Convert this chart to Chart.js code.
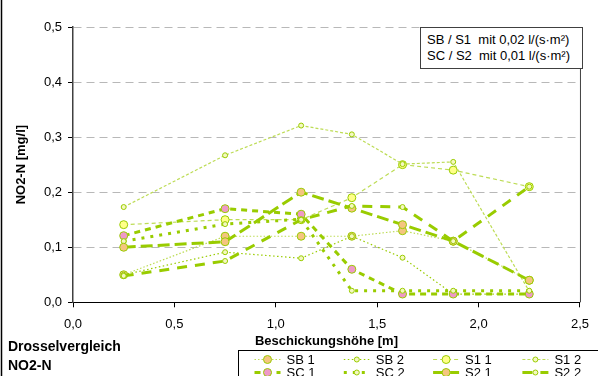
<!DOCTYPE html>
<html><head><meta charset="utf-8">
<script src="https://cdn.jsdelivr.net/npm/chart.js@4"></script>
<style>
html,body{margin:0;padding:0;background:#fff;}
#wrap{position:relative;width:598px;height:376px;overflow:hidden;font-family:"Liberation Sans",Arial,sans-serif;}
canvas{position:absolute;left:0;top:0;}
#note{position:absolute;left:420px;top:27px;width:163px;height:42px;border:1px solid #404040;box-sizing:border-box;background:#fff;font-size:13px;line-height:16px;padding:4px 0 0 6px;color:#000;white-space:nowrap;}
#title{position:absolute;left:8px;top:337px;font-size:14px;font-weight:bold;line-height:19px;color:#000;}
</style></head>
<body><div id="wrap"><canvas id="c" width="598" height="376"></canvas>
<div id="note">SB / S1&nbsp; mit 0,02 l/(s·m²)<br>SC / S2&nbsp; mit 0,01 l/(s·m²)</div>
<div id="title">Drosselvergleich<br>NO2-N</div>
</div>
<script>
// ---- data ----
const heights = [0.25, 0.75, 1.125, 1.375, 1.625, 1.875, 2.25];
const seriesNames = ['SB 1', 'SB 2', 'S1 1', 'S1 2', 'SC 1', 'SC 2', 'S2 1', 'S2 2'];
const sb1 = [0.05, 0.12, 0.12, 0.12, 0.13, 0.111, 0.04];
const sb2 = [0.05, 0.091, 0.08, 0.12, 0.081, 0.015, 0.015];
const s11 = [0.141, 0.15, 0.15, 0.19, 0.25, 0.24, 0.21];
const s12 = [0.173, 0.267, 0.321, 0.305, 0.251, 0.255, 0.02];
const sc1 = [0.121, 0.17, 0.16, 0.06, 0.015, 0.015, 0.015];
const sc2 = [0.111, 0.142, 0.151, 0.021, 0.021, 0.021, 0.021];
const s21 = [0.1, 0.11, 0.2, 0.171, 0.141, 0.111, 0.04];
const s22 = [0.048, 0.075, 0.15, 0.175, 0.173, 0.111, 0.21];
const xTickValues = [0, 0.5, 1.0, 1.5, 2.0, 2.5];
const yTickValues = [0, 0.1, 0.2, 0.3, 0.4, 0.5];
const xTitle = 'Beschickungshöhe [m]';
const yTitle = 'NO2-N [mg/l]';

// ---- styles ----
const G = '#99cc00', GL = '#bddc55';
const ORANGE = '#f4c580', PINK = '#ee99c8', YEL = '#ffff88', SMALL = '#f4f8c0';
const styles = [
  {c: GL, w: 1.2, d: [1.5, 2], fill: ORANGE, r: 4},
  {c: G,  w: 1.2, d: [1.5, 2.5], fill: SMALL, r: 2.5},
  {c: GL, w: 1.2, d: [4, 3], fill: YEL, r: 4},
  {c: GL, w: 1.2, d: [3, 2], fill: SMALL, r: 2.5},
  {c: G,  w: 3, d: [6, 5], fill: PINK, r: 4},
  {c: G,  w: 3, d: [3, 6], fill: SMALL, r: 2.5},
  {c: G,  w: 3, d: [12, 5], fill: ORANGE, r: 4},
  {c: G,  w: 3, d: [10, 8], fill: SMALL, r: 2.5}
];
const allSeries = [sb1, sb2, s11, s12, sc1, sc2, s21, s22];
const fmt = v => Number(v).toFixed(1).replace('.', ',');
const FONT = '"Liberation Sans", Arial, sans-serif';

const datasets = allSeries.map((arr, i) => ({
  label: seriesNames[i],
  data: arr.map((y, k) => ({x: heights[k], y})),
  borderColor: styles[i].c,
  borderWidth: styles[i].w,
  borderDash: styles[i].d,
  pointRadius: styles[i].r,
  pointBackgroundColor: styles[i].fill,
  pointBorderColor: G,
  pointBorderWidth: 1,
  tension: 0,
  fill: false,
  order: 7 - i
}));

const frame = {
  id: 'frame',
  beforeDatasetsDraw(chart) {
    const {ctx, chartArea: a} = chart;
    ctx.save();
    ctx.strokeStyle = '#404040'; ctx.lineWidth = 1;
    ctx.beginPath(); ctx.moveTo(a.right + 0.5, a.top); ctx.lineTo(a.right + 0.5, a.bottom); ctx.stroke();
    ctx.restore();
  },
  afterDraw(chart) {
    const ctx = chart.ctx;
    ctx.save();
    // outer frame edge (left)
    ctx.strokeStyle = '#000'; ctx.lineWidth = 1.5;
    ctx.beginPath(); ctx.moveTo(1.5, 0); ctx.lineTo(1.5, 376); ctx.stroke();
    // legend box
    ctx.lineWidth = 1;
    ctx.strokeRect(238.5, 350.5, 380, 40);
    chart.data.datasets.forEach((ds, i) => {
      const col = i % 4, row = Math.floor(i / 4);
      const mx = 267.5 + col * 89.3, my = 359.5 + row * 13;
      ctx.strokeStyle = ds.borderColor; ctx.lineWidth = ds.borderWidth;
      ctx.setLineDash(ds.borderDash);
      ctx.beginPath(); ctx.moveTo(mx - 13, my); ctx.lineTo(mx + 13, my); ctx.stroke();
      ctx.setLineDash([]);
      ctx.beginPath(); ctx.arc(mx, my, ds.pointRadius, 0, Math.PI * 2);
      ctx.fillStyle = ds.pointBackgroundColor; ctx.fill();
      ctx.lineWidth = 1; ctx.strokeStyle = ds.pointBorderColor; ctx.stroke();
      ctx.fillStyle = '#000'; ctx.font = '13px ' + FONT; ctx.textBaseline = 'middle';
      ctx.fillText(ds.label, mx + 19, my + 0.5);
    });
    ctx.restore();
  }
};

new Chart(document.getElementById('c'), {
  type: 'line',
  data: {datasets},
  plugins: [frame],
  options: {
    responsive: false, animation: false, devicePixelRatio: 1,
    layout: {padding: {left: 0, top: 27, right: 15, bottom: 0}},
    plugins: {legend: {display: false}, tooltip: {enabled: false}},
    scales: {
      x: {
        type: 'linear', min: 0, max: 2.5,
        afterBuildTicks: s => { s.ticks = xTickValues.map(v => ({value: v})); },
        afterFit: s => { s.height = 73.7; },
        ticks: {callback: fmt, color: '#000', font: {family: FONT, size: 13}, padding: 9, maxRotation: 0},
        grid: {drawOnChartArea: false, tickLength: 5, tickColor: '#000', tickWidth: 1},
        border: {color: '#000', width: 1},
        title: {display: true, text: xTitle, color: '#000', font: {family: FONT, size: 13, weight: 'bold'}, padding: {top: 0, bottom: 27}}
      },
      y: {
        min: 0, max: 0.5,
        afterBuildTicks: s => { s.ticks = yTickValues.map(v => ({value: v})); },
        afterFit: s => { s.width = 73; },
        ticks: {callback: fmt, color: '#000', font: {family: FONT, size: 13}, padding: 6},
        grid: {color: '#b8b8b8', lineWidth: 1, tickLength: 5, tickColor: '#000', tickWidth: 1, tickBorderDash: [], borderDash: [8, 5]},
        border: {color: '#404040', width: 1.5, dash: [8, 5]},
        title: {display: true, text: yTitle, color: '#000', font: {family: FONT, size: 13, weight: 'bold'}, padding: {top: 14, bottom: 0}}
      }
    }
  }
});
</script>
</body></html>
